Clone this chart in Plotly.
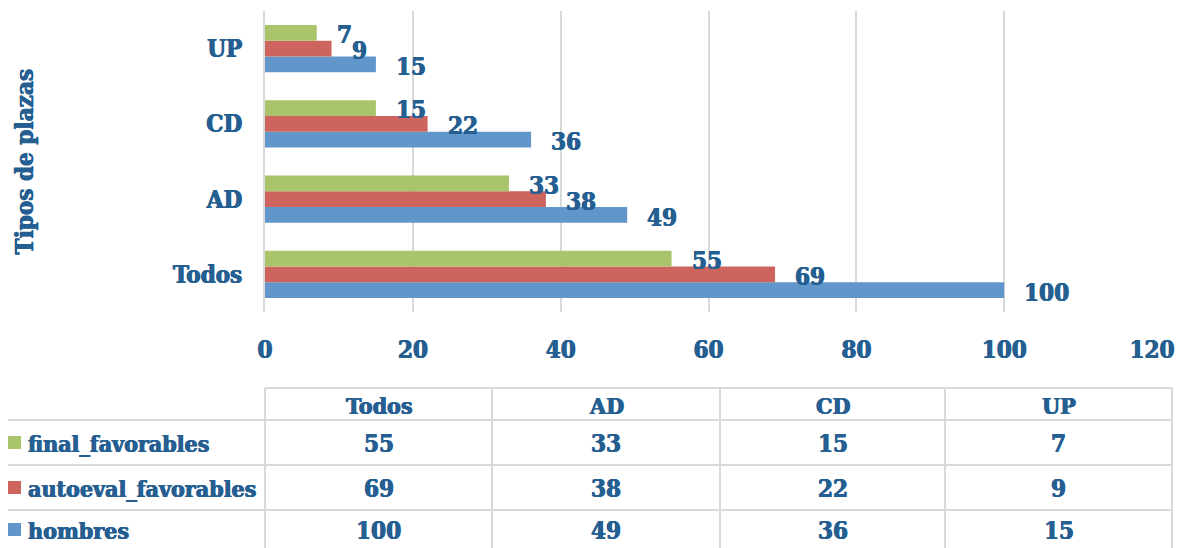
import plotly.graph_objects as go

categories = ["Todos", "AD", "CD", "UP"]
hombres = [100, 49, 36, 15]
autoeval_favorables = [69, 38, 22, 9]
final_favorables = [55, 33, 15, 7]
x_ticks = [0, 20, 40, 60, 80, 100, 120]

series = [
    ("hombres", hombres, "#6096C9"),
    ("autoeval_favorables", autoeval_favorables, "#CD655E"),
    ("final_favorables", final_favorables, "#A9C46A"),
]

FONT = "DejaVu Serif Condensed, DejaVu Serif, serif"
TXT = "#255E91"
GRID = "#D9D9D9"
SHADOW = "0.6px 0 0 #255E91, -0.4px 0 0 #255E91"

OFF = 8  # page body margin
W, H = 1191 - OFF, 548 - OFF
L, R, T, B = 265 - OFF, 1152 - OFF, 11 - OFF, 312 - OFF


def fnt(size):
    return dict(family=FONT, size=size, color=TXT, weight="bold", shadow=SHADOW)


def pxx(p):
    return (p - OFF - L) / (R - L)


def pxy(p):
    return (B - (p - OFF)) / (B - T)


fig = go.Figure()
for name, vals, col in series:
    fig.add_trace(go.Bar(
        y=categories, x=vals, name=name, orientation="h",
        marker=dict(color=col, line=dict(width=0)), showlegend=False,
    ))

annotations = []
shifts = {"hombres": -18, "autoeval_favorables": -2, "final_favorables": 14}
for name, vals, col in series:
    for c, v in zip(categories, vals):
        annotations.append(dict(
            x=v, y=c, xref="x", yref="y", text=str(v), showarrow=False,
            xanchor="left", yanchor="middle", xshift=18, yshift=shifts[name],
            font=fnt(24),
        ))

annotations.append(dict(
    x=pxx(24), y=0.5, xref="paper", yref="paper", text="Tipos de plazas",
    showarrow=False, textangle=-90, xanchor="center", yanchor="middle",
    font=fnt(24),
))

col_edges = [265, 492, 720, 945, 1172]
row_edges = [388, 420, 465, 510, 560]
shapes = []
shapes.append(dict(type="line", xref="paper", yref="paper",
                   x0=pxx(col_edges[0]), x1=pxx(col_edges[-1]),
                   y0=pxy(row_edges[0]), y1=pxy(row_edges[0]),
                   line=dict(color=GRID, width=2)))
for ry in row_edges[1:4]:
    shapes.append(dict(type="line", xref="paper", yref="paper",
                       x0=pxx(0), x1=pxx(col_edges[-1]),
                       y0=pxy(ry), y1=pxy(ry),
                       line=dict(color=GRID, width=2)))
for cx in col_edges:
    shapes.append(dict(type="line", xref="paper", yref="paper",
                       x0=pxx(cx), x1=pxx(cx),
                       y0=pxy(row_edges[0]), y1=pxy(row_edges[-1]),
                       line=dict(color=GRID, width=2)))

for i, c in enumerate(categories):
    xc = (col_edges[i] + col_edges[i + 1]) / 2
    yc = (row_edges[0] + row_edges[1]) / 2 + 1
    annotations.append(dict(
        x=pxx(xc), y=pxy(yc), xref="paper", yref="paper", text=c,
        showarrow=False, xanchor="center", yanchor="middle", font=fnt(23),
    ))

row_centers = [443, 488, 530]
table_rows = [series[2], series[1], series[0]]
for yc, (name, vals, col) in zip(row_centers, table_rows):
    shapes.append(dict(type="rect", xref="paper", yref="paper",
                       x0=pxx(8), x1=pxx(21), y0=pxy(yc + 6), y1=pxy(yc - 7),
                       fillcolor=col, line=dict(width=0)))
    annotations.append(dict(
        x=pxx(26), y=pxy(yc), xref="paper", yref="paper", text=name,
        showarrow=False, xanchor="left", yanchor="middle", font=fnt(23),
    ))
    for i, v in enumerate(vals):
        xc = (col_edges[i] + col_edges[i + 1]) / 2
        annotations.append(dict(
            x=pxx(xc), y=pxy(yc), xref="paper", yref="paper", text=str(v),
            showarrow=False, xanchor="center", yanchor="middle", font=fnt(24),
        ))

fig.update_layout(
    width=W, height=H,
    margin=dict(l=L, r=W - R, t=T, b=H - B),
    paper_bgcolor="white", plot_bgcolor="white",
    barmode="group", bargap=0.373, bargroupgap=0,
    annotations=annotations, shapes=shapes,
    xaxis=dict(range=[0, 120], tickvals=x_ticks, showgrid=True,
               gridcolor=GRID, gridwidth=2, zeroline=False, showline=False,
               ticks="", ticklabelstandoff=21, tickfont=fnt(24)),
    yaxis=dict(showgrid=False, zeroline=False, showline=True,
               linecolor=GRID, linewidth=2, ticks="", ticklabelstandoff=16,
               tickfont=fnt(24)),
)

fig.write_html("out.html")
